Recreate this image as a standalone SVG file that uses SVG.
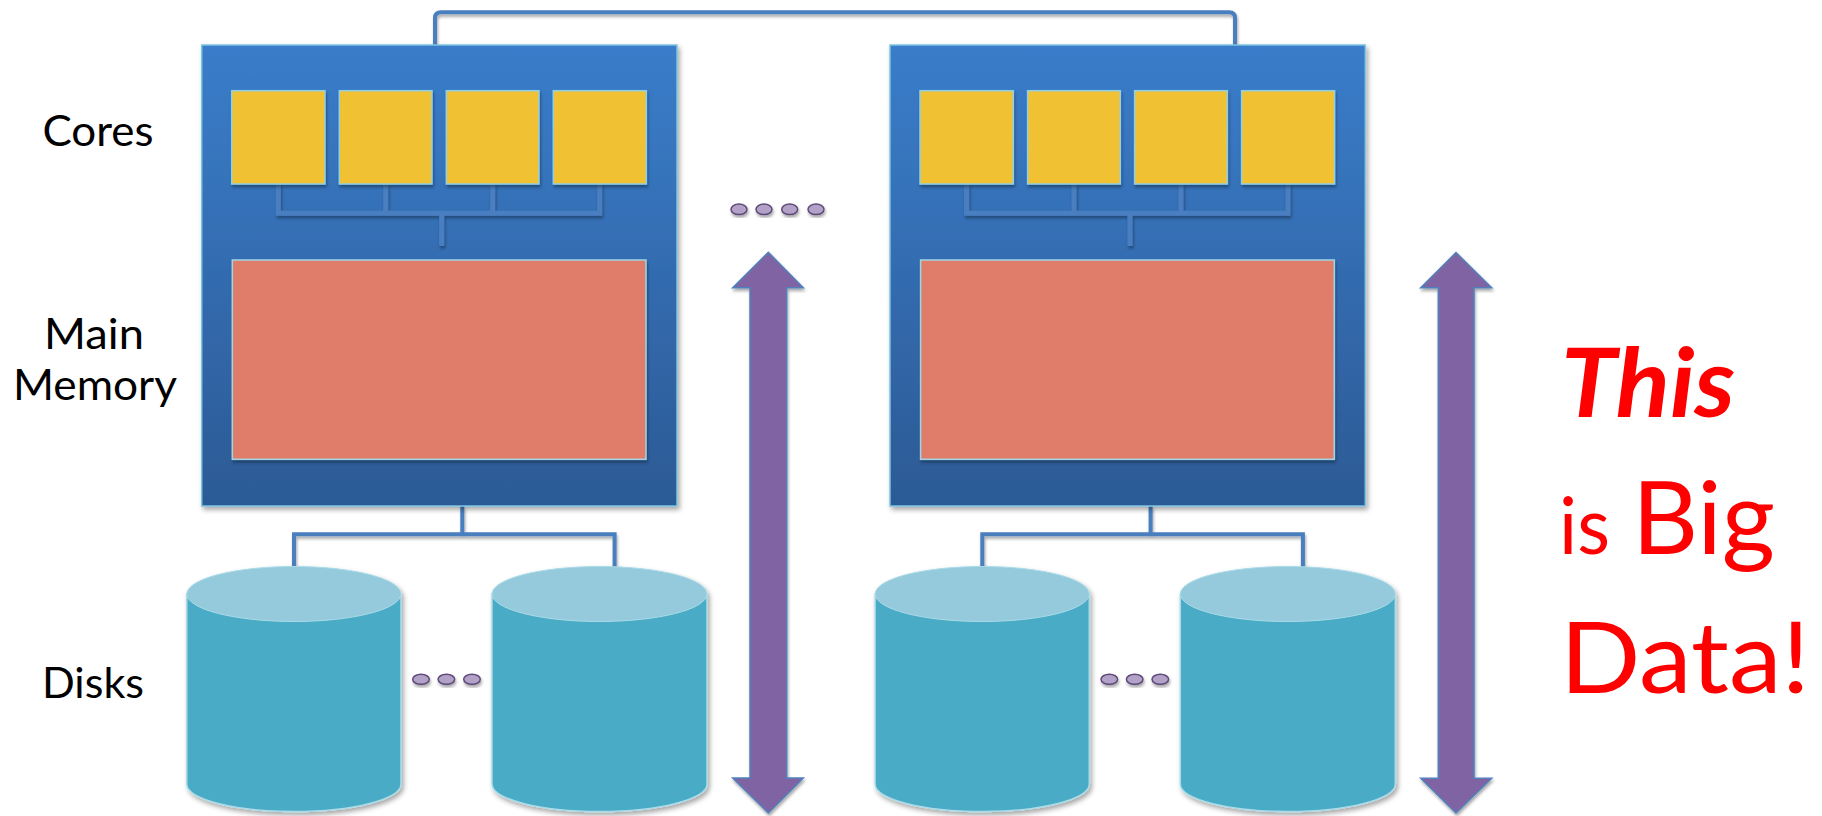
<svg xmlns="http://www.w3.org/2000/svg" width="1822" height="816" viewBox="0 0 1822 816">
<defs>
<linearGradient id="boxGrad" x1="0" y1="0" x2="0" y2="1">
<stop offset="0" stop-color="#3a7dca"/>
<stop offset="1" stop-color="#2c5a95"/>
</linearGradient>
<filter id="shadow" x="-10%" y="-10%" width="130%" height="130%">
<feDropShadow dx="2" dy="3" stdDeviation="2.5" flood-color="#000" flood-opacity="0.35"/>
</filter>
<filter id="shadowS" x="-20%" y="-20%" width="150%" height="150%">
<feDropShadow dx="1" dy="2.5" stdDeviation="1.5" flood-color="#000" flood-opacity="0.35"/>
</filter>
</defs>
<style>
.box{fill:url(#boxGrad);stroke:#7fc4e0;stroke-width:1.5;filter:url(#shadow)}
.core{fill:#f0c132;stroke:#8fd0e6;stroke-width:1.5;filter:url(#shadowS)}
.mem{fill:#df7d6b;stroke:#9fd5e5;stroke-width:1.5;filter:url(#shadowS)}
.bus{fill:none;stroke:#4a7fc0;stroke-width:5;filter:url(#shadowS)}
.wire{fill:none;stroke:#4a7ebf;stroke-width:4;filter:url(#shadowS)}
.body{fill:#4aabc5;stroke:#a9dbe8;stroke-width:1.5}
.top{fill:#94cadb;stroke:#a9dbe8;stroke-width:1}
.dot{fill:#b3a2c7;stroke:#5f497a;stroke-width:1.5;filter:url(#shadowS)}
.arrow{fill:#8064a2;stroke:#4f81bd;stroke-width:1.5;filter:url(#shadowS)}
.lbl{font-family:Lato,"Liberation Sans",sans-serif;font-size:43px;fill:#000}
.red{font-family:Lato,"Liberation Sans",sans-serif;fill:#ff0000}
</style>

<g id="connectors">
<path class="wire" d="M435,45 V18 Q435,12.3 441,12.3 H1229 Q1235,12.3 1235,18 V45"/>
<path class="wire" d="M462.3,506 V534.3 M294,566.7 V534.3 H614.6 V566.7"/>
<path class="wire" d="M1150.6,506 V534.3 M982.3,566.7 V534.3 H1302.9 V566.7"/>
</g>

<g id="machine1">
<rect class="box" x="201.7" y="45" width="475.3" height="461"/>
<g id="m1-bus">
<path class="bus" d="M278.3,184 V213.3 H599.7 V184 M385.7,184 V213.3 M492.7,184 V213.3 M441.7,213.3 V246"/>
</g>
<rect id="m1-core1" class="core" x="231.7" y="90.7" width="93.3" height="93.3"/>
<rect id="m1-core2" class="core" x="339.3" y="90.7" width="92.7" height="93.3"/>
<rect id="m1-core3" class="core" x="446.3" y="90.7" width="92.7" height="93.3"/>
<rect id="m1-core4" class="core" x="553.3" y="90.7" width="93" height="93.3"/>
<rect id="m1-memory" class="mem" x="232.3" y="260" width="413.7" height="199.3"/>
</g>

<g id="machine2">
<rect class="box" x="890" y="45" width="475.3" height="461"/>
<g id="m2-bus">
<path class="bus" d="M966.6,184 V213.3 H1288 V184 M1074,184 V213.3 M1181,184 V213.3 M1130,213.3 V246"/>
</g>
<rect id="m2-core1" class="core" x="920" y="90.7" width="93.3" height="93.3"/>
<rect id="m2-core2" class="core" x="1027.6" y="90.7" width="92.7" height="93.3"/>
<rect id="m2-core3" class="core" x="1134.6" y="90.7" width="92.7" height="93.3"/>
<rect id="m2-core4" class="core" x="1241.6" y="90.7" width="93" height="93.3"/>
<rect id="m2-memory" class="mem" x="920.6" y="260" width="413.7" height="199.3"/>
</g>

<g id="disk1" filter="url(#shadow)">
<path class="body" d="M186.8,594 V784 A107.1,27.5 0 0 0 401,784 V594 Z"/>
<ellipse class="top" cx="293.9" cy="594" rx="107.1" ry="27.5"/>
</g>
<g id="disk2" filter="url(#shadow)">
<path class="body" d="M492,594 V784 A107.5,27.5 0 0 0 707,784 V594 Z"/>
<ellipse class="top" cx="599.5" cy="594" rx="107.5" ry="27.5"/>
</g>
<g id="disk3" filter="url(#shadow)">
<path class="body" d="M875.1,594 V784 A107.1,27.5 0 0 0 1089.3,784 V594 Z"/>
<ellipse class="top" cx="982.2" cy="594" rx="107.1" ry="27.5"/>
</g>
<g id="disk4" filter="url(#shadow)">
<path class="body" d="M1180.3,594 V784 A107.5,27.5 0 0 0 1395.3,784 V594 Z"/>
<ellipse class="top" cx="1287.8" cy="594" rx="107.5" ry="27.5"/>
</g>

<g id="dots-disks1">
<ellipse class="dot" cx="421" cy="679.3" rx="8.3" ry="5"/>
<ellipse class="dot" cx="446.4" cy="679.3" rx="8.3" ry="5"/>
<ellipse class="dot" cx="472" cy="679.3" rx="8.3" ry="5"/>
</g>
<g id="dots-disks2">
<ellipse class="dot" cx="1109.3" cy="679.3" rx="8.3" ry="5"/>
<ellipse class="dot" cx="1134.7" cy="679.3" rx="8.3" ry="5"/>
<ellipse class="dot" cx="1160.3" cy="679.3" rx="8.3" ry="5"/>
</g>
<g id="dots-machines">
<ellipse class="dot" cx="739" cy="209.3" rx="8" ry="5.3"/>
<ellipse class="dot" cx="764" cy="209.3" rx="8" ry="5.3"/>
<ellipse class="dot" cx="789.7" cy="209.3" rx="8" ry="5.3"/>
<ellipse class="dot" cx="816" cy="209.3" rx="8" ry="5.3"/>
</g>

<g id="arrow1">
<polygon class="arrow" points="768.3,252.3 803.3,287.7 786.7,287.7 786.7,778 803.3,778 768.3,813 732.7,778 750,778 750,287.7 732.7,287.7"/>
</g>
<g id="arrow2">
<polygon class="arrow" points="1456,252.5 1491.7,287.8 1474,287.8 1474,778.2 1491.7,778.2 1456,813 1420.7,778.2 1438.3,778.2 1438.3,287.8 1420.7,287.8"/>
</g>

<g id="labels">
<text class="lbl" x="42.5" y="145.7" textLength="111" lengthAdjust="spacingAndGlyphs">Cores</text>
<text class="lbl" x="44" y="349.3" textLength="100" lengthAdjust="spacingAndGlyphs">Main</text>
<text class="lbl" x="13" y="400" textLength="164" lengthAdjust="spacingAndGlyphs">Memory</text>
<text class="lbl" x="42" y="698" textLength="102" lengthAdjust="spacingAndGlyphs">Disks</text>
</g>

<g id="bigdata">
<text class="red" x="1561" y="417.3" font-size="96" font-weight="bold" font-style="italic" textLength="174" lengthAdjust="spacingAndGlyphs">This</text>
<text class="red" x="1559" y="554.3" font-size="79" textLength="51" lengthAdjust="spacingAndGlyphs">is</text>
<text class="red" x="1632" y="554.3" font-size="100" textLength="143" lengthAdjust="spacingAndGlyphs">Big</text>
<text class="red" x="1560" y="692.7" font-size="99" textLength="250" lengthAdjust="spacingAndGlyphs">Data!</text>
</g>
</svg>
